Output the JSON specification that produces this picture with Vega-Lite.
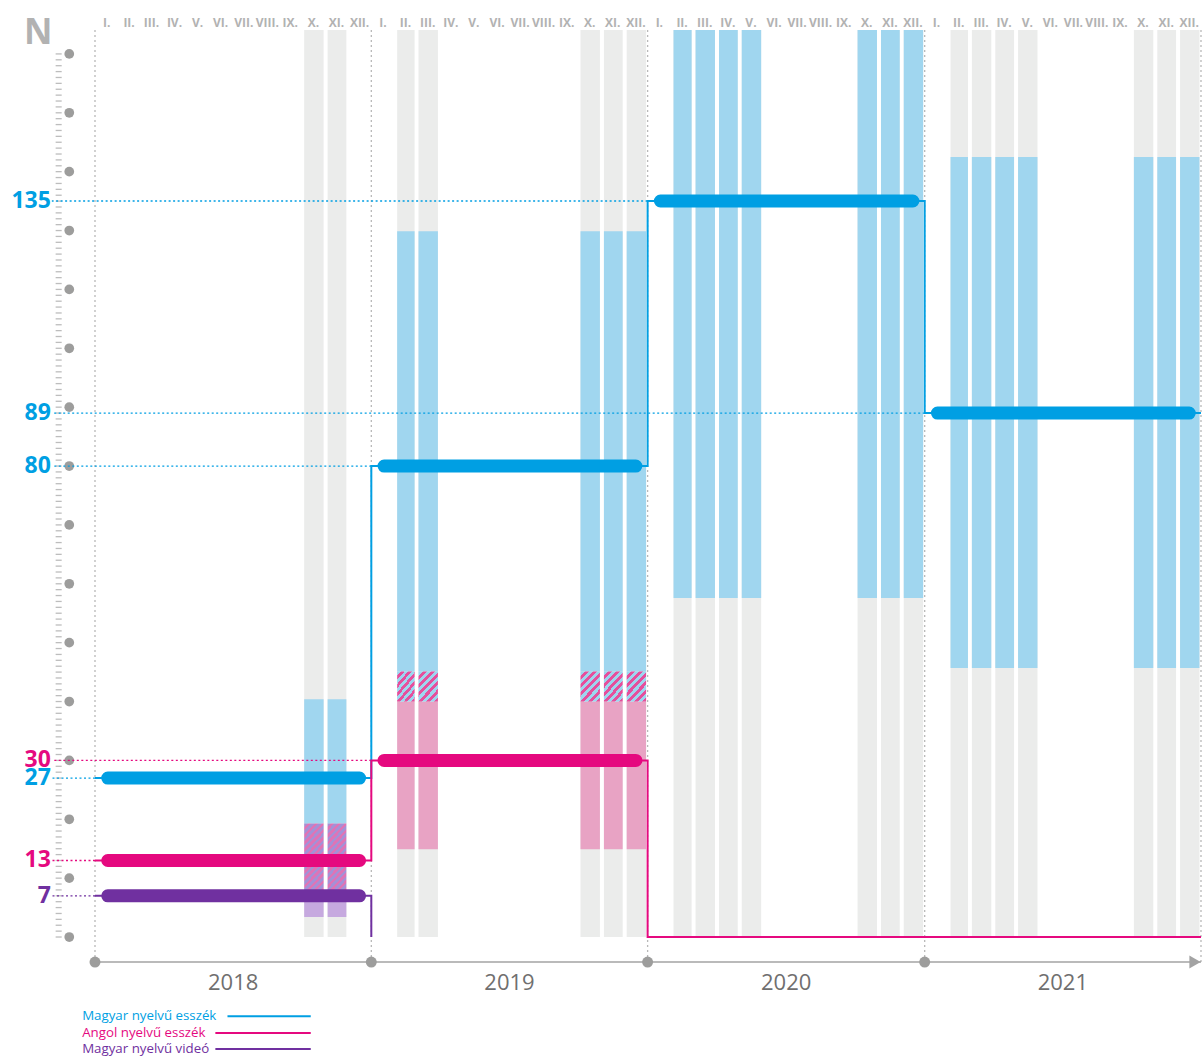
{
  "$schema": "https://vega.github.io/schema/vega-lite/v6.json",
  "width": 1202,
  "height": 1056,
  "autosize": "none",
  "padding": 0,
  "background": "#ffffff",
  "config": {"view": {"stroke": null}},
  "datasets": {
    "bars": [
      {"month": "2018-10-01", "part": "col", "lo": 0, "hi": 154.07},
      {"month": "2018-11-01", "part": "col", "lo": 0, "hi": 154.07},
      {"month": "2019-02-01", "part": "col", "lo": 0, "hi": 154.07},
      {"month": "2019-03-01", "part": "col", "lo": 0, "hi": 154.07},
      {"month": "2019-10-01", "part": "col", "lo": 0, "hi": 154.07},
      {"month": "2019-11-01", "part": "col", "lo": 0, "hi": 154.07},
      {"month": "2019-12-01", "part": "col", "lo": 0, "hi": 154.07},
      {"month": "2020-02-01", "part": "col", "lo": 0, "hi": 154.07},
      {"month": "2020-03-01", "part": "col", "lo": 0, "hi": 154.07},
      {"month": "2020-04-01", "part": "col", "lo": 0, "hi": 154.07},
      {"month": "2020-05-01", "part": "col", "lo": 0, "hi": 154.07},
      {"month": "2020-10-01", "part": "col", "lo": 0, "hi": 154.07},
      {"month": "2020-11-01", "part": "col", "lo": 0, "hi": 154.07},
      {"month": "2020-12-01", "part": "col", "lo": 0, "hi": 154.07},
      {"month": "2021-02-01", "part": "col", "lo": 0, "hi": 154.07},
      {"month": "2021-03-01", "part": "col", "lo": 0, "hi": 154.07},
      {"month": "2021-04-01", "part": "col", "lo": 0, "hi": 154.07},
      {"month": "2021-05-01", "part": "col", "lo": 0, "hi": 154.07},
      {"month": "2021-10-01", "part": "col", "lo": 0, "hi": 154.07},
      {"month": "2021-11-01", "part": "col", "lo": 0, "hi": 154.07},
      {"month": "2021-12-01", "part": "col", "lo": 0, "hi": 154.07},
      {"month": "2018-10-01", "part": "blue", "lo": 19.3, "hi": 40.4},
      {"month": "2018-11-01", "part": "blue", "lo": 19.3, "hi": 40.4},
      {"month": "2019-02-01", "part": "blue", "lo": 45.1, "hi": 119.9},
      {"month": "2019-03-01", "part": "blue", "lo": 45.1, "hi": 119.9},
      {"month": "2019-10-01", "part": "blue", "lo": 45.1, "hi": 119.9},
      {"month": "2019-11-01", "part": "blue", "lo": 45.1, "hi": 119.9},
      {"month": "2019-12-01", "part": "blue", "lo": 45.1, "hi": 119.9},
      {"month": "2020-02-01", "part": "blue", "lo": 57.6, "hi": 154.07},
      {"month": "2020-03-01", "part": "blue", "lo": 57.6, "hi": 154.07},
      {"month": "2020-04-01", "part": "blue", "lo": 57.6, "hi": 154.07},
      {"month": "2020-05-01", "part": "blue", "lo": 57.6, "hi": 154.07},
      {"month": "2020-10-01", "part": "blue", "lo": 57.6, "hi": 154.07},
      {"month": "2020-11-01", "part": "blue", "lo": 57.6, "hi": 154.07},
      {"month": "2020-12-01", "part": "blue", "lo": 57.6, "hi": 154.07},
      {"month": "2021-02-01", "part": "blue", "lo": 45.7, "hi": 132.5},
      {"month": "2021-03-01", "part": "blue", "lo": 45.7, "hi": 132.5},
      {"month": "2021-04-01", "part": "blue", "lo": 45.7, "hi": 132.5},
      {"month": "2021-05-01", "part": "blue", "lo": 45.7, "hi": 132.5},
      {"month": "2021-10-01", "part": "blue", "lo": 45.7, "hi": 132.5},
      {"month": "2021-11-01", "part": "blue", "lo": 45.7, "hi": 132.5},
      {"month": "2021-12-01", "part": "blue", "lo": 45.7, "hi": 132.5},
      {"month": "2018-10-01", "part": "hatch18", "lo": 7.9, "hi": 19.3},
      {"month": "2018-11-01", "part": "hatch18", "lo": 7.9, "hi": 19.3},
      {"month": "2019-02-01", "part": "hatch19", "lo": 40.0, "hi": 45.1},
      {"month": "2019-03-01", "part": "hatch19", "lo": 40.0, "hi": 45.1},
      {"month": "2019-10-01", "part": "hatch19", "lo": 40.0, "hi": 45.1},
      {"month": "2019-11-01", "part": "hatch19", "lo": 40.0, "hi": 45.1},
      {"month": "2019-12-01", "part": "hatch19", "lo": 40.0, "hi": 45.1},
      {"month": "2019-02-01", "part": "pink", "lo": 14.9, "hi": 40.0},
      {"month": "2019-03-01", "part": "pink", "lo": 14.9, "hi": 40.0},
      {"month": "2019-10-01", "part": "pink", "lo": 14.9, "hi": 40.0},
      {"month": "2019-11-01", "part": "pink", "lo": 14.9, "hi": 40.0},
      {"month": "2019-12-01", "part": "pink", "lo": 14.9, "hi": 40.0},
      {"month": "2018-10-01", "part": "purple", "lo": 3.4, "hi": 7.9},
      {"month": "2018-11-01", "part": "purple", "lo": 3.4, "hi": 7.9}
    ],
    "avg": [
      {"series": "Magyar nyelvű esszék", "year": "2018-01-01", "v": 27},
      {"series": "Magyar nyelvű esszék", "year": "2019-01-01", "v": 80},
      {"series": "Magyar nyelvű esszék", "year": "2020-01-01", "v": 135},
      {"series": "Magyar nyelvű esszék", "year": "2021-01-01", "v": 89},
      {"series": "Angol nyelvű esszék", "year": "2018-01-01", "v": 13},
      {"series": "Angol nyelvű esszék", "year": "2019-01-01", "v": 30},
      {"series": "Magyar nyelvű videó", "year": "2018-01-01", "v": 7}
    ],
    "steps": [
      {"series": "Magyar nyelvű esszék", "date": "2018-01-01", "v": 27},
      {"series": "Magyar nyelvű esszék", "date": "2019-01-01", "v": 80},
      {"series": "Magyar nyelvű esszék", "date": "2020-01-01", "v": 135},
      {"series": "Magyar nyelvű esszék", "date": "2021-01-01", "v": 89},
      {"series": "Magyar nyelvű esszék", "date": "2022-01-01", "v": 89},
      {"series": "Angol nyelvű esszék", "date": "2018-01-01", "v": 13},
      {"series": "Angol nyelvű esszék", "date": "2019-01-01", "v": 30},
      {"series": "Angol nyelvű esszék", "date": "2020-01-01", "v": 0},
      {"series": "Angol nyelvű esszék", "date": "2021-01-01", "v": 0},
      {"series": "Angol nyelvű esszék", "date": "2022-01-01", "v": 0},
      {"series": "Magyar nyelvű videó", "date": "2018-01-01", "v": 7},
      {"series": "Magyar nyelvű videó", "date": "2019-01-01", "v": 0}
    ],
    "years": [
      {"date": "2018-01-01", "label": "2018"},
      {"date": "2019-01-01", "label": "2019"},
      {"date": "2020-01-01", "label": "2020"},
      {"date": "2021-01-01", "label": "2021"}
    ],
    "bounds": [
      {"date": "2018-01-01"},
      {"date": "2019-01-01"},
      {"date": "2020-01-01"},
      {"date": "2021-01-01"},
      {"date": "2022-01-01"}
    ],
    "months": [
      {"m": "2018-01-01", "r": "I."}, {"m": "2018-02-01", "r": "II."}, {"m": "2018-03-01", "r": "III."}, {"m": "2018-04-01", "r": "IV."},
      {"m": "2018-05-01", "r": "V."}, {"m": "2018-06-01", "r": "VI."}, {"m": "2018-07-01", "r": "VII."}, {"m": "2018-08-01", "r": "VIII."},
      {"m": "2018-09-01", "r": "IX."}, {"m": "2018-10-01", "r": "X."}, {"m": "2018-11-01", "r": "XI."}, {"m": "2018-12-01", "r": "XII."},
      {"m": "2019-01-01", "r": "I."}, {"m": "2019-02-01", "r": "II."}, {"m": "2019-03-01", "r": "III."}, {"m": "2019-04-01", "r": "IV."},
      {"m": "2019-05-01", "r": "V."}, {"m": "2019-06-01", "r": "VI."}, {"m": "2019-07-01", "r": "VII."}, {"m": "2019-08-01", "r": "VIII."},
      {"m": "2019-09-01", "r": "IX."}, {"m": "2019-10-01", "r": "X."}, {"m": "2019-11-01", "r": "XI."}, {"m": "2019-12-01", "r": "XII."},
      {"m": "2020-01-01", "r": "I."}, {"m": "2020-02-01", "r": "II."}, {"m": "2020-03-01", "r": "III."}, {"m": "2020-04-01", "r": "IV."},
      {"m": "2020-05-01", "r": "V."}, {"m": "2020-06-01", "r": "VI."}, {"m": "2020-07-01", "r": "VII."}, {"m": "2020-08-01", "r": "VIII."},
      {"m": "2020-09-01", "r": "IX."}, {"m": "2020-10-01", "r": "X."}, {"m": "2020-11-01", "r": "XI."}, {"m": "2020-12-01", "r": "XII."},
      {"m": "2021-01-01", "r": "I."}, {"m": "2021-02-01", "r": "II."}, {"m": "2021-03-01", "r": "III."}, {"m": "2021-04-01", "r": "IV."},
      {"m": "2021-05-01", "r": "V."}, {"m": "2021-06-01", "r": "VI."}, {"m": "2021-07-01", "r": "VII."}, {"m": "2021-08-01", "r": "VIII."},
      {"m": "2021-09-01", "r": "IX."}, {"m": "2021-10-01", "r": "X."}, {"m": "2021-11-01", "r": "XI."}, {"m": "2021-12-01", "r": "XII."}
    ],
    "tens": [
      {"v": 0}, {"v": 10}, {"v": 20}, {"v": 30}, {"v": 40}, {"v": 50}, {"v": 60}, {"v": 70},
      {"v": 80}, {"v": 90}, {"v": 100}, {"v": 110}, {"v": 120}, {"v": 130}, {"v": 140}, {"v": 150}
    ],
    "units": [
      {"v": 0}, {"v": 1}, {"v": 2}, {"v": 3}, {"v": 4}, {"v": 5}, {"v": 6}, {"v": 7}, {"v": 8}, {"v": 9},
      {"v": 10}, {"v": 11}, {"v": 12}, {"v": 13}, {"v": 14}, {"v": 15}, {"v": 16}, {"v": 17}, {"v": 18}, {"v": 19},
      {"v": 20}, {"v": 21}, {"v": 22}, {"v": 23}, {"v": 24}, {"v": 25}, {"v": 26}, {"v": 27}, {"v": 28}, {"v": 29},
      {"v": 30}, {"v": 31}, {"v": 32}, {"v": 33}, {"v": 34}, {"v": 35}, {"v": 36}, {"v": 37}, {"v": 38}, {"v": 39},
      {"v": 40}, {"v": 41}, {"v": 42}, {"v": 43}, {"v": 44}, {"v": 45}, {"v": 46}, {"v": 47}, {"v": 48}, {"v": 49},
      {"v": 50}, {"v": 51}, {"v": 52}, {"v": 53}, {"v": 54}, {"v": 55}, {"v": 56}, {"v": 57}, {"v": 58}, {"v": 59},
      {"v": 60}, {"v": 61}, {"v": 62}, {"v": 63}, {"v": 64}, {"v": 65}, {"v": 66}, {"v": 67}, {"v": 68}, {"v": 69},
      {"v": 70}, {"v": 71}, {"v": 72}, {"v": 73}, {"v": 74}, {"v": 75}, {"v": 76}, {"v": 77}, {"v": 78}, {"v": 79},
      {"v": 80}, {"v": 81}, {"v": 82}, {"v": 83}, {"v": 84}, {"v": 85}, {"v": 86}, {"v": 87}, {"v": 88}, {"v": 89},
      {"v": 90}, {"v": 91}, {"v": 92}, {"v": 93}, {"v": 94}, {"v": 95}, {"v": 96}, {"v": 97}, {"v": 98}, {"v": 99},
      {"v": 100}, {"v": 101}, {"v": 102}, {"v": 103}, {"v": 104}, {"v": 105}, {"v": 106}, {"v": 107}, {"v": 108}, {"v": 109},
      {"v": 110}, {"v": 111}, {"v": 112}, {"v": 113}, {"v": 114}, {"v": 115}, {"v": 116}, {"v": 117}, {"v": 118}, {"v": 119},
      {"v": 120}, {"v": 121}, {"v": 122}, {"v": 123}, {"v": 124}, {"v": 125}, {"v": 126}, {"v": 127}, {"v": 128}, {"v": 129},
      {"v": 130}, {"v": 131}, {"v": 132}, {"v": 133}, {"v": 134}, {"v": 135}, {"v": 136}, {"v": 137}, {"v": 138}, {"v": 139},
      {"v": 140}, {"v": 141}, {"v": 142}, {"v": 143}, {"v": 144}, {"v": 145}, {"v": 146}, {"v": 147}, {"v": 148}, {"v": 149},
      {"v": 150}
    ]
  },
  "layer": [
    {
      "layer": [
        {
          "data": {"name": "bars"},
          "transform": [{"filter": "datum.part === 'col'"}],
          "mark": {"type": "bar", "fill": "#ebeceb", "width": {"band": 0.87}},
          "encoding": {
            "x": {"field": "month", "type": "temporal", "timeUnit": "utcyearmonth", "scale": {"type": "utc", "domain": [1503922221338, 1641109334400]}, "axis": null},
            "y": {"field": "lo", "type": "quantitative", "scale": {"domain": [-20.21, 159.16], "zero": false, "nice": false}, "axis": null},
            "y2": {"field": "hi"}
          }
        },
        {
          "data": {"name": "bars"},
          "transform": [{"filter": "datum.part === 'blue'"}],
          "mark": {"type": "bar", "fill": "#a0d6ef", "width": {"band": 0.87}},
          "encoding": {
            "x": {"field": "month", "type": "temporal", "timeUnit": "utcyearmonth", "scale": {"type": "utc", "domain": [1503922221338, 1641109334400]}, "axis": null},
            "y": {"field": "lo", "type": "quantitative", "scale": {"domain": [-20.21, 159.16], "zero": false, "nice": false}, "axis": null},
            "y2": {"field": "hi"}
          }
        },
        {
          "data": {"name": "bars"},
          "transform": [{"filter": "datum.part === 'pink'"}],
          "mark": {"type": "bar", "fill": "#e8a3c4", "width": {"band": 0.87}},
          "encoding": {
            "x": {"field": "month", "type": "temporal", "timeUnit": "utcyearmonth", "scale": {"type": "utc", "domain": [1503922221338, 1641109334400]}, "axis": null},
            "y": {"field": "lo", "type": "quantitative", "scale": {"domain": [-20.21, 159.16], "zero": false, "nice": false}, "axis": null},
            "y2": {"field": "hi"}
          }
        },
        {
          "data": {"name": "bars"},
          "transform": [{"filter": "datum.part === 'purple'"}],
          "mark": {"type": "bar", "fill": "#c6a9df", "width": {"band": 0.87}},
          "encoding": {
            "x": {"field": "month", "type": "temporal", "timeUnit": "utcyearmonth", "scale": {"type": "utc", "domain": [1503922221338, 1641109334400]}, "axis": null},
            "y": {"field": "lo", "type": "quantitative", "scale": {"domain": [-20.21, 159.16], "zero": false, "nice": false}, "axis": null},
            "y2": {"field": "hi"}
          }
        },
        {
          "data": {"name": "bars"},
          "transform": [{"filter": "datum.part === 'hatch19'"}],
          "mark": {"type": "bar", "width": {"band": 0.87},
            "fill": {"gradient": "linear", "x1": 0, "y1": 0, "x2": 0.769, "y2": 1.154, "stops": [
              {"offset": 0, "color": "#9dd5ef"}, {"offset": 0.0833, "color": "#9dd5ef"}, {"offset": 0.0833, "color": "#e54f9c"}, {"offset": 0.1667, "color": "#e54f9c"},
              {"offset": 0.1667, "color": "#9dd5ef"}, {"offset": 0.25, "color": "#9dd5ef"}, {"offset": 0.25, "color": "#e54f9c"}, {"offset": 0.3333, "color": "#e54f9c"},
              {"offset": 0.3333, "color": "#9dd5ef"}, {"offset": 0.4167, "color": "#9dd5ef"}, {"offset": 0.4167, "color": "#e54f9c"}, {"offset": 0.5, "color": "#e54f9c"},
              {"offset": 0.5, "color": "#9dd5ef"}, {"offset": 0.5833, "color": "#9dd5ef"}, {"offset": 0.5833, "color": "#e54f9c"}, {"offset": 0.6667, "color": "#e54f9c"},
              {"offset": 0.6667, "color": "#9dd5ef"}, {"offset": 0.75, "color": "#9dd5ef"}, {"offset": 0.75, "color": "#e54f9c"}, {"offset": 0.8333, "color": "#e54f9c"},
              {"offset": 0.8333, "color": "#9dd5ef"}, {"offset": 0.9167, "color": "#9dd5ef"}, {"offset": 0.9167, "color": "#e54f9c"}, {"offset": 1, "color": "#e54f9c"}
            ]}},
          "encoding": {
            "x": {"field": "month", "type": "temporal", "timeUnit": "utcyearmonth", "scale": {"type": "utc", "domain": [1503922221338, 1641109334400]}, "axis": null},
            "y": {"field": "lo", "type": "quantitative", "scale": {"domain": [-20.21, 159.16], "zero": false, "nice": false}, "axis": null},
            "y2": {"field": "hi"}
          }
        },
        {
          "data": {"name": "bars"},
          "transform": [{"filter": "datum.part === 'hatch18'"}],
          "mark": {"type": "bar", "width": {"band": 0.87},
            "fill": {"gradient": "linear", "x1": 0, "y1": 0, "x2": 0.356, "y2": 1.19, "stops": [
              {"offset": 0, "color": "#a590d6"}, {"offset": 0.0417, "color": "#a590d6"}, {"offset": 0.0417, "color": "#de74b6"}, {"offset": 0.0833, "color": "#de74b6"},
              {"offset": 0.0833, "color": "#a590d6"}, {"offset": 0.125, "color": "#a590d6"}, {"offset": 0.125, "color": "#de74b6"}, {"offset": 0.1667, "color": "#de74b6"},
              {"offset": 0.1667, "color": "#a590d6"}, {"offset": 0.2083, "color": "#a590d6"}, {"offset": 0.2083, "color": "#de74b6"}, {"offset": 0.25, "color": "#de74b6"},
              {"offset": 0.25, "color": "#a590d6"}, {"offset": 0.2917, "color": "#a590d6"}, {"offset": 0.2917, "color": "#de74b6"}, {"offset": 0.3333, "color": "#de74b6"},
              {"offset": 0.3333, "color": "#a590d6"}, {"offset": 0.375, "color": "#a590d6"}, {"offset": 0.375, "color": "#de74b6"}, {"offset": 0.4167, "color": "#de74b6"},
              {"offset": 0.4167, "color": "#a590d6"}, {"offset": 0.4583, "color": "#a590d6"}, {"offset": 0.4583, "color": "#de74b6"}, {"offset": 0.5, "color": "#de74b6"},
              {"offset": 0.5, "color": "#a590d6"}, {"offset": 0.5417, "color": "#a590d6"}, {"offset": 0.5417, "color": "#de74b6"}, {"offset": 0.5833, "color": "#de74b6"},
              {"offset": 0.5833, "color": "#a590d6"}, {"offset": 0.625, "color": "#a590d6"}, {"offset": 0.625, "color": "#de74b6"}, {"offset": 0.6667, "color": "#de74b6"},
              {"offset": 0.6667, "color": "#a590d6"}, {"offset": 0.7083, "color": "#a590d6"}, {"offset": 0.7083, "color": "#de74b6"}, {"offset": 0.75, "color": "#de74b6"},
              {"offset": 0.75, "color": "#a590d6"}, {"offset": 0.7917, "color": "#a590d6"}, {"offset": 0.7917, "color": "#de74b6"}, {"offset": 0.8333, "color": "#de74b6"},
              {"offset": 0.8333, "color": "#a590d6"}, {"offset": 0.875, "color": "#a590d6"}, {"offset": 0.875, "color": "#de74b6"}, {"offset": 0.9167, "color": "#de74b6"},
              {"offset": 0.9167, "color": "#a590d6"}, {"offset": 0.9583, "color": "#a590d6"}, {"offset": 0.9583, "color": "#de74b6"}, {"offset": 1, "color": "#de74b6"}
            ]}},
          "encoding": {
            "x": {"field": "month", "type": "temporal", "timeUnit": "utcyearmonth", "scale": {"type": "utc", "domain": [1503922221338, 1641109334400]}, "axis": null},
            "y": {"field": "lo", "type": "quantitative", "scale": {"domain": [-20.21, 159.16], "zero": false, "nice": false}, "axis": null},
            "y2": {"field": "hi"}
          }
        },
        {
          "data": {"name": "bounds"},
          "mark": {"type": "rule", "color": "#b8b8b8", "strokeWidth": 1.3, "strokeDash": [2, 3]},
          "encoding": {
            "x": {"field": "date", "type": "temporal", "scale": {"type": "utc", "domain": [1503922221338, 1641109334400]}, "axis": null},
            "y": {"datum": 154.07, "type": "quantitative", "scale": {"domain": [-20.21, 159.16], "zero": false, "nice": false}, "axis": null},
            "y2": {"datum": -4.25}
          }
        },
        {
          "data": {"values": [{}]},
          "mark": {"type": "rule", "color": "#a3a3a3", "strokeWidth": 1.6},
          "encoding": {
            "x": {"datum": {"year": 2018, "month": 1, "date": 1, "utc": true}, "type": "temporal", "scale": {"type": "utc", "domain": [1503922221338, 1641109334400]}, "axis": null},
            "x2": {"datum": {"year": 2022, "month": 1, "date": 1, "utc": true}},
            "y": {"datum": -4.25, "type": "quantitative", "scale": {"domain": [-20.21, 159.16], "zero": false, "nice": false}, "axis": null}
          }
        },
        {
          "data": {"values": [{}]},
          "mark": {"type": "point", "shape": "triangle-right", "filled": true, "size": 170, "color": "#a3a3a3", "opacity": 1, "xOffset": -6},
          "encoding": {
            "x": {"datum": {"year": 2022, "month": 1, "date": 1, "utc": true}, "type": "temporal", "scale": {"type": "utc", "domain": [1503922221338, 1641109334400]}, "axis": null},
            "y": {"datum": -4.25, "type": "quantitative", "scale": {"domain": [-20.21, 159.16], "zero": false, "nice": false}, "axis": null}
          }
        },
        {
          "data": {"name": "years"},
          "mark": {"type": "circle", "size": 120, "color": "#9d9d9c", "opacity": 1},
          "encoding": {
            "x": {"field": "date", "type": "temporal", "scale": {"type": "utc", "domain": [1503922221338, 1641109334400]}, "axis": null},
            "y": {"datum": -4.25, "type": "quantitative", "scale": {"domain": [-20.21, 159.16], "zero": false, "nice": false}, "axis": null}
          }
        },
        {
          "data": {"name": "years"},
          "mark": {"type": "text", "fontSize": 22, "font": "Open Sans", "color": "#706f6f", "baseline": "middle", "align": "center"},
          "encoding": {
            "x": {"field": "date", "type": "temporal", "timeUnit": "utcyear", "bandPosition": 0.5, "scale": {"type": "utc", "domain": [1503922221338, 1641109334400]}, "axis": null},
            "y": {"datum": -7.81, "type": "quantitative", "scale": {"domain": [-20.21, 159.16], "zero": false, "nice": false}, "axis": null},
            "text": {"field": "label", "type": "nominal"}
          }
        },
        {
          "data": {"name": "months"},
          "mark": {"type": "text", "fontSize": 12, "fontWeight": "bold", "font": "Open Sans", "color": "#b2b2b2", "baseline": "alphabetic", "align": "center"},
          "encoding": {
            "x": {"field": "m", "type": "temporal", "timeUnit": "utcyearmonth", "bandPosition": 0.5, "scale": {"type": "utc", "domain": [1503922221338, 1641109334400]}, "axis": null},
            "y": {"datum": 154.58, "type": "quantitative", "scale": {"domain": [-20.21, 159.16], "zero": false, "nice": false}, "axis": null},
            "text": {"field": "r", "type": "nominal"}
          }
        },
        {
          "data": {"name": "units"},
          "mark": {"type": "rule", "color": "#bdbdbd", "strokeWidth": 1.3},
          "encoding": {
            "x": {"datum": {"year": 2017, "month": 11, "date": 10, "utc": true}, "type": "temporal", "scale": {"type": "utc", "domain": [1503922221338, 1641109334400]}, "axis": null},
            "x2": {"datum": {"year": 2017, "month": 11, "date": 18, "utc": true}},
            "y": {"field": "v", "type": "quantitative", "scale": {"domain": [-20.21, 159.16], "zero": false, "nice": false}, "axis": null}
          }
        },
        {
          "data": {"name": "tens"},
          "mark": {"type": "circle", "size": 95, "color": "#9d9d9c", "opacity": 1},
          "encoding": {
            "x": {"datum": {"year": 2017, "month": 11, "date": 28, "utc": true}, "type": "temporal", "scale": {"type": "utc", "domain": [1503922221338, 1641109334400]}, "axis": null},
            "y": {"field": "v", "type": "quantitative", "scale": {"domain": [-20.21, 159.16], "zero": false, "nice": false}, "axis": null}
          }
        },
        {
          "data": {"values": [{"t": "N"}]},
          "mark": {"type": "text", "fontSize": 35, "fontWeight": "bold", "font": "Open Sans", "color": "#b2b2b2", "align": "center", "baseline": "middle"},
          "encoding": {
            "x": {"datum": {"year": 2017, "month": 10, "date": 18, "utc": true}, "type": "temporal", "scale": {"type": "utc", "domain": [1503922221338, 1641109334400]}, "axis": null},
            "y": {"datum": 153.6, "type": "quantitative", "scale": {"domain": [-20.21, 159.16], "zero": false, "nice": false}, "axis": null},
            "text": {"field": "t", "type": "nominal"}
          }
        },
        {
          "data": {"values": [{"series": "Magyar nyelvű esszék"}]},
          "mark": {"type": "text", "fontSize": 13.3, "font": "Open Sans", "align": "left", "baseline": "middle"},
          "encoding": {
            "x": {"datum": {"year": 2017, "month": 12, "date": 15, "utc": true}, "type": "temporal", "scale": {"type": "utc", "domain": [1503922221338, 1641109334400]}, "axis": null},
            "y": {"datum": -13.45, "type": "quantitative", "scale": {"domain": [-20.21, 159.16], "zero": false, "nice": false}, "axis": null},
            "text": {"field": "series", "type": "nominal"},
            "color": {"field": "series", "type": "nominal", "scale": {"domain": ["Magyar nyelvű esszék", "Angol nyelvű esszék", "Magyar nyelvű videó"], "range": ["#009fe3", "#e5097f", "#7030a0"]}, "legend": null}
          }
        },
        {
          "data": {"values": [{"series": "Angol nyelvű esszék"}]},
          "mark": {"type": "text", "fontSize": 13.3, "font": "Open Sans", "align": "left", "baseline": "middle"},
          "encoding": {
            "x": {"datum": {"year": 2017, "month": 12, "date": 15, "utc": true}, "type": "temporal", "scale": {"type": "utc", "domain": [1503922221338, 1641109334400]}, "axis": null},
            "y": {"datum": -16.3, "type": "quantitative", "scale": {"domain": [-20.21, 159.16], "zero": false, "nice": false}, "axis": null},
            "text": {"field": "series", "type": "nominal"},
            "color": {"field": "series", "type": "nominal", "scale": {"domain": ["Magyar nyelvű esszék", "Angol nyelvű esszék", "Magyar nyelvű videó"], "range": ["#009fe3", "#e5097f", "#7030a0"]}, "legend": null}
          }
        },
        {
          "data": {"values": [{"series": "Magyar nyelvű videó"}]},
          "mark": {"type": "text", "fontSize": 13.3, "font": "Open Sans", "align": "left", "baseline": "middle"},
          "encoding": {
            "x": {"datum": {"year": 2017, "month": 12, "date": 15, "utc": true}, "type": "temporal", "scale": {"type": "utc", "domain": [1503922221338, 1641109334400]}, "axis": null},
            "y": {"datum": -19.0, "type": "quantitative", "scale": {"domain": [-20.21, 159.16], "zero": false, "nice": false}, "axis": null},
            "text": {"field": "series", "type": "nominal"},
            "color": {"field": "series", "type": "nominal", "scale": {"domain": ["Magyar nyelvű esszék", "Angol nyelvű esszék", "Magyar nyelvű videó"], "range": ["#009fe3", "#e5097f", "#7030a0"]}, "legend": null}
          }
        },
        {
          "data": {"values": [{"series": "Magyar nyelvű esszék"}]},
          "mark": {"type": "rule", "strokeWidth": 2},
          "encoding": {
            "x": {"datum": {"year": 2018, "month": 6, "date": 25, "utc": true}, "type": "temporal", "scale": {"type": "utc", "domain": [1503922221338, 1641109334400]}, "axis": null},
            "x2": {"datum": {"year": 2018, "month": 10, "date": 13, "utc": true}},
            "y": {"datum": -13.45, "type": "quantitative", "scale": {"domain": [-20.21, 159.16], "zero": false, "nice": false}, "axis": null},
            "color": {"field": "series", "type": "nominal", "scale": {"domain": ["Magyar nyelvű esszék", "Angol nyelvű esszék", "Magyar nyelvű videó"], "range": ["#009fe3", "#e5097f", "#7030a0"]}, "legend": null}
          }
        },
        {
          "data": {"values": [{"series": "Angol nyelvű esszék"}]},
          "mark": {"type": "rule", "strokeWidth": 2},
          "encoding": {
            "x": {"datum": {"year": 2018, "month": 6, "date": 9, "utc": true}, "type": "temporal", "scale": {"type": "utc", "domain": [1503922221338, 1641109334400]}, "axis": null},
            "x2": {"datum": {"year": 2018, "month": 10, "date": 13, "utc": true}},
            "y": {"datum": -16.3, "type": "quantitative", "scale": {"domain": [-20.21, 159.16], "zero": false, "nice": false}, "axis": null},
            "color": {"field": "series", "type": "nominal", "scale": {"domain": ["Magyar nyelvű esszék", "Angol nyelvű esszék", "Magyar nyelvű videó"], "range": ["#009fe3", "#e5097f", "#7030a0"]}, "legend": null}
          }
        },
        {
          "data": {"values": [{"series": "Magyar nyelvű videó"}]},
          "mark": {"type": "rule", "strokeWidth": 2},
          "encoding": {
            "x": {"datum": {"year": 2018, "month": 6, "date": 9, "utc": true}, "type": "temporal", "scale": {"type": "utc", "domain": [1503922221338, 1641109334400]}, "axis": null},
            "x2": {"datum": {"year": 2018, "month": 10, "date": 13, "utc": true}},
            "y": {"datum": -19.0, "type": "quantitative", "scale": {"domain": [-20.21, 159.16], "zero": false, "nice": false}, "axis": null},
            "color": {"field": "series", "type": "nominal", "scale": {"domain": ["Magyar nyelvű esszék", "Angol nyelvű esszék", "Magyar nyelvű videó"], "range": ["#009fe3", "#e5097f", "#7030a0"]}, "legend": null}
          }
        }
      ]
    },
    {
      "layer": [
        {
          "data": {"name": "avg"},
          "mark": {"type": "rule", "strokeWidth": 1.3, "strokeDash": [2, 2.5]},
          "encoding": {
            "x": {"field": "year", "type": "temporal", "scale": {"type": "utc", "domain": [1503922221338, 1641109334400]}, "axis": null},
            "x2": {"datum": {"year": 2017, "month": 11, "date": 5, "utc": true}},
            "y": {"field": "v", "type": "quantitative", "scale": {"domain": [-20.21, 89, 135, 159.16], "range": [1056, 413.05, 201, 0], "zero": false, "nice": false}, "axis": null},
            "color": {"field": "series", "type": "nominal", "scale": {"domain": ["Magyar nyelvű esszék", "Angol nyelvű esszék", "Magyar nyelvű videó"], "range": ["#009fe3", "#e5097f", "#7030a0"]}, "legend": null}
          }
        },
        {
          "data": {"name": "steps"},
          "mark": {"type": "line", "interpolate": "step-after", "strokeWidth": 2},
          "encoding": {
            "x": {"field": "date", "type": "temporal", "scale": {"type": "utc", "domain": [1503922221338, 1641109334400]}, "axis": null},
            "y": {"field": "v", "type": "quantitative", "scale": {"domain": [-20.21, 89, 135, 159.16], "range": [1056, 413.05, 201, 0], "zero": false, "nice": false}, "axis": null},
            "color": {"field": "series", "type": "nominal", "scale": {"domain": ["Magyar nyelvű esszék", "Angol nyelvű esszék", "Magyar nyelvű videó"], "range": ["#009fe3", "#e5097f", "#7030a0"]}, "legend": null}
          }
        },
        {
          "data": {"name": "avg"},
          "mark": {"type": "bar", "width": {"band": 0.915}, "strokeWidth": 13, "strokeJoin": "round"},
          "encoding": {
            "x": {"field": "year", "type": "temporal", "timeUnit": "utcyear", "scale": {"type": "utc", "domain": [1503922221338, 1641109334400]}, "axis": null},
            "y": {"field": "v", "type": "quantitative", "scale": {"domain": [-20.21, 89, 135, 159.16], "range": [1056, 413.05, 201, 0], "zero": false, "nice": false}, "axis": null},
            "y2": {"field": "v"},
            "color": {"field": "series", "type": "nominal", "scale": {"domain": ["Magyar nyelvű esszék", "Angol nyelvű esszék", "Magyar nyelvű videó"], "range": ["#009fe3", "#e5097f", "#7030a0"]}, "legend": null},
            "stroke": {"field": "series", "type": "nominal", "scale": {"domain": ["Magyar nyelvű esszék", "Angol nyelvű esszék", "Magyar nyelvű videó"], "range": ["#009fe3", "#e5097f", "#7030a0"]}, "legend": null}
          }
        },
        {
          "data": {"name": "avg"},
          "mark": {"type": "text", "align": "right", "baseline": "middle", "fontSize": 23, "fontWeight": "bold", "font": "Open Sans", "dx": -1},
          "encoding": {
            "x": {"datum": {"year": 2017, "month": 11, "date": 5, "utc": true}, "type": "temporal", "scale": {"type": "utc", "domain": [1503922221338, 1641109334400]}, "axis": null},
            "y": {"field": "v", "type": "quantitative", "scale": {"domain": [-20.21, 89, 135, 159.16], "range": [1056, 413.05, 201, 0], "zero": false, "nice": false}, "axis": null},
            "text": {"field": "v", "type": "quantitative"},
            "color": {"field": "series", "type": "nominal", "scale": {"domain": ["Magyar nyelvű esszék", "Angol nyelvű esszék", "Magyar nyelvű videó"], "range": ["#009fe3", "#e5097f", "#7030a0"]}, "legend": null}
          }
        }
      ]
    }
  ],
  "resolve": {"scale": {"y": "independent"}}
}
